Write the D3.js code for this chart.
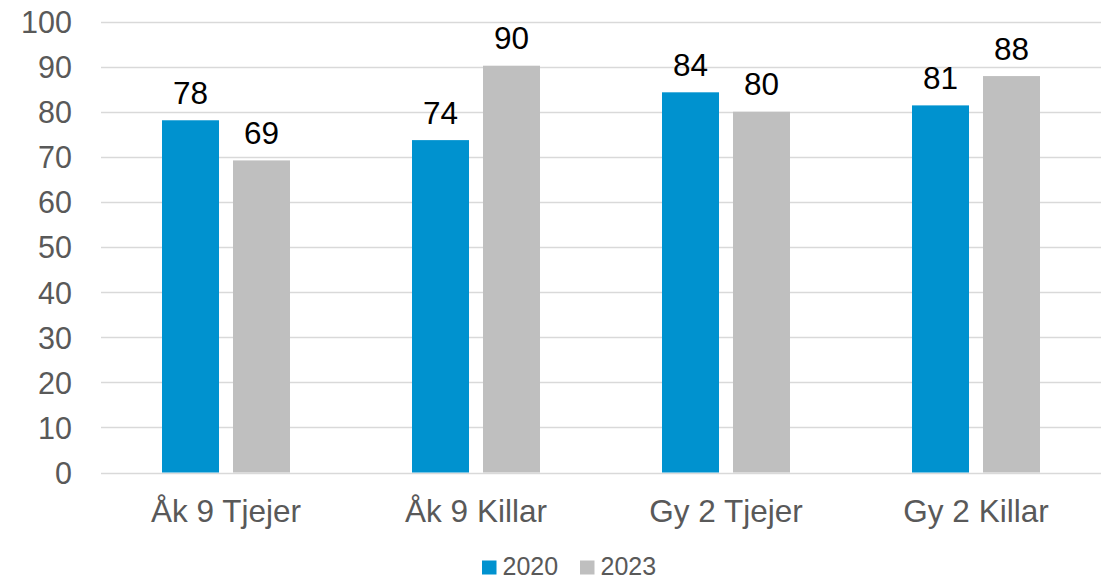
<!DOCTYPE html>
<html><head><meta charset="utf-8">
<script src="https://cdn.jsdelivr.net/npm/d3@7"></script>
<style>body{margin:0;background:#fff}svg{display:block;font-family:"Liberation Sans",Arial,sans-serif}</style>
</head><body>
<svg id="c" width="1104" height="579"></svg>
<script>
const categories = ["Åk 9 Tjejer", "Åk 9 Killar", "Gy 2 Tjejer", "Gy 2 Killar"];
const seriesNames = ["2020", "2023"];
const values2020 = [78.1, 73.7, 84.3, 81.4];
const values2023 = [69.2, 90.2, 80.0, 87.9];
const yTicks = [0, 10, 20, 30, 40, 50, 60, 70, 80, 90, 100];
const colors = ["#0092CF", "#BFBFBF"];

(function () {
const svg = d3.select("#c");
const pLeft = 101, pRight = 1101, pTop = 21.5, pBottom = 472.5;
const x0 = d3.scaleBand().domain(categories).range([pLeft, pRight]).paddingInner(0.488).paddingOuter(0.244);
const x1 = d3.scaleBand().domain(seriesNames).range([0, x0.bandwidth()]).paddingInner(0.197).paddingOuter(0);
const y = d3.scaleLinear().domain([0, 100]).range([pBottom, pTop]);
const color = d3.scaleOrdinal().domain(seriesNames).range(colors);

// gridlines
svg.append("g").selectAll("line").data(yTicks).join("line")
  .attr("x1", pLeft).attr("x2", pRight)
  .attr("y1", d => Math.round(y(d)) + 0.5).attr("y2", d => Math.round(y(d)) + 0.5)
  .attr("stroke", "#D9D9D9").attr("stroke-width", 1.5);

// y axis labels
const yAxis = d3.axisLeft(y).tickValues(yTicks).tickSize(0).tickPadding(0);
const ya = svg.append("g").attr("transform", `translate(72,0)`).call(yAxis);
ya.select(".domain").remove();
ya.selectAll("text").attr("font-size", 30.5).attr("fill", "#595959")
  .attr("font-family", "Liberation Sans, Arial, sans-serif").attr("dy", "0.36em");

// x axis labels
const xAxis = d3.axisBottom(x0).tickSize(0).tickPadding(0);
const xa = svg.append("g").attr("transform", `translate(0,499)`).call(xAxis);
xa.select(".domain").remove();
xa.selectAll("text").attr("font-size", 31.5).attr("fill", "#595959")
  .attr("font-family", "Liberation Sans, Arial, sans-serif").attr("dy", "0.72em");

const data = categories.map((c, i) => ({cat: c, vals: [
  {s: seriesNames[0], v: values2020[i]}, {s: seriesNames[1], v: values2023[i]}]}));

const groups = svg.append("g").selectAll("g").data(data).join("g")
  .attr("transform", d => `translate(${x0(d.cat)},0)`);
groups.selectAll("rect").data(d => d.vals).join("rect")
  .attr("x", d => x1(d.s)).attr("width", x1.bandwidth())
  .attr("y", d => y(d.v)).attr("height", d => y(0) - y(d.v))
  .attr("fill", d => color(d.s));
groups.selectAll("text").data(d => d.vals).join("text")
  .attr("x", d => x1(d.s) + x1.bandwidth() / 2)
  .attr("y", d => y(d.v) - 16.5)
  .attr("text-anchor", "middle").attr("font-size", 31.5).attr("fill", "#000")
  .text(d => d3.format(".0f")(d.v));

// legend
const legendX = [482, 580];
const lg = svg.append("g").selectAll("g").data(seriesNames).join("g")
  .attr("transform", (d, i) => `translate(${legendX[i]},0)`);
lg.append("rect").attr("x", 0).attr("y", 560.5).attr("width", 14.5).attr("height", 14).attr("fill", d => color(d));
lg.append("text").attr("x", 20.5).attr("y", 575).attr("font-size", 25).attr("fill", "#595959").text(d => d);
})();
</script>
</body></html>
